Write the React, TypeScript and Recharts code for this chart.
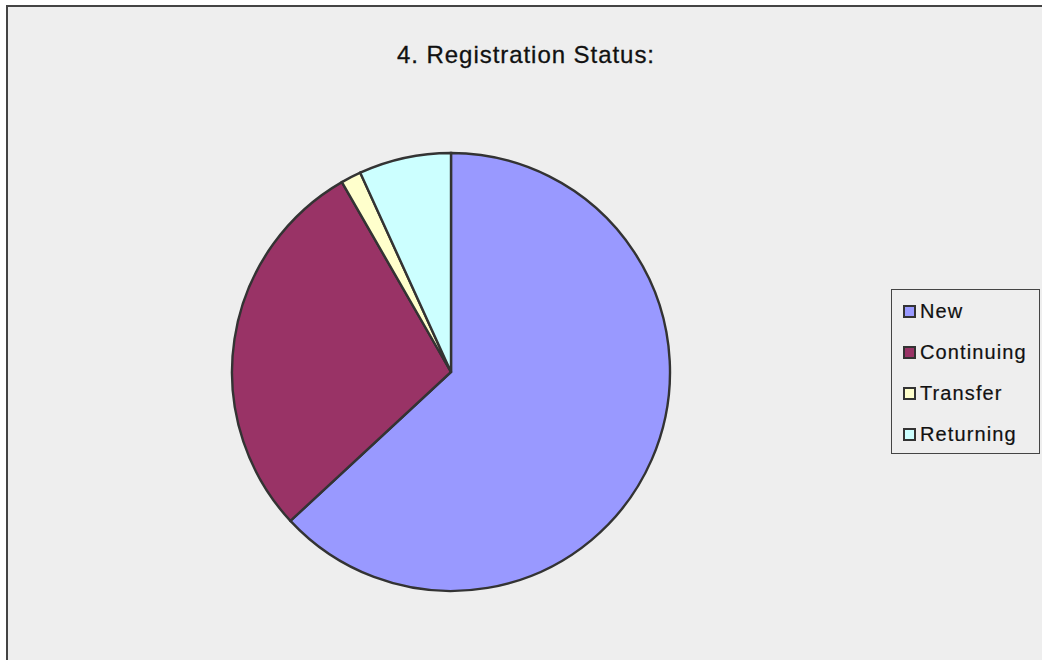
import { PieChart, Pie, Cell, Legend } from 'recharts';

const categories = ['New', 'Continuing', 'Transfer', 'Returning'];
const shares = [63.1, 28.6, 1.5, 6.8];
const colors = ['#9999FF', '#993366', '#FFFFCC', '#CCFFFF'];
const title = '4. Registration Status:';

const data = categories.map((name, i) => ({ name, value: shares[i] }));

const font = '"Liberation Sans", Arial, sans-serif';

function LegendBox({ payload }: { payload?: { value: string; color: string }[] }) {
  const items = [...(payload || [])].sort(
    (a, b) => categories.indexOf(a.value) - categories.indexOf(b.value)
  );
  return (
    <div
      style={{
        border: '1px solid #444',
        background: '#EEEEEE',
        width: 149,
        height: 165,
        boxSizing: 'border-box',
        paddingTop: 1,
        paddingLeft: 11,
        fontFamily: font,
        fontSize: 20,
        letterSpacing: 1.1,
        color: '#111',
        WebkitTextStroke: '0.2px #111',
      }}
    >
      {items.map((p) => (
        <div key={p.value} style={{ display: 'flex', alignItems: 'center', height: 41 }}>
          <span
            style={{
              display: 'inline-block',
              width: 9,
              height: 9,
              border: '2px solid #333',
              background: p.color,
              marginRight: 4,
            }}
          />
          <span>{p.value}</span>
        </div>
      ))}
    </div>
  );
}

export default function App() {
  return (
    <div
      style={{
        position: 'fixed',
        left: 0,
        top: 0,
        width: 1042,
        height: 660,
        overflow: 'hidden',
        background: '#fff',
      }}
    >
      <div
        style={{
          position: 'absolute',
          left: 6,
          top: 5,
          width: 1100,
          height: 700,
          background: '#EEEEEE',
          borderLeft: '2px solid #444',
          borderTop: '2px solid #444',
        }}
      />
      <div
        style={{
          position: 'absolute',
          left: 0,
          width: 1052,
          top: 41,
          textAlign: 'center',
          fontFamily: font,
          fontSize: 24,
          letterSpacing: 0.95,
          color: '#111',
          WebkitTextStroke: '0.3px #111',
        }}
      >
        {title}
      </div>
      <div style={{ position: 'absolute', left: 0, top: 0 }}>
        <PieChart width={1042} height={660} margin={{ top: 0, right: 0, bottom: 0, left: 0 }}>
          <Pie
            data={data}
            dataKey="value"
            nameKey="name"
            cx={451}
            cy={372}
            outerRadius={219}
            startAngle={90}
            endAngle={-270}
            stroke="#333"
            strokeWidth={2.4}
            isAnimationActive={false}
            label={false}
            labelLine={false}
          >
            {data.map((d, i) => (
              <Cell key={d.name} fill={colors[i]} />
            ))}
          </Pie>
          <Legend
            content={(props: any) => <LegendBox payload={props.payload} />}
            wrapperStyle={{ position: 'absolute', left: 891, top: 289, width: 149, height: 165 }}
          />
        </PieChart>
      </div>
    </div>
  );
}
